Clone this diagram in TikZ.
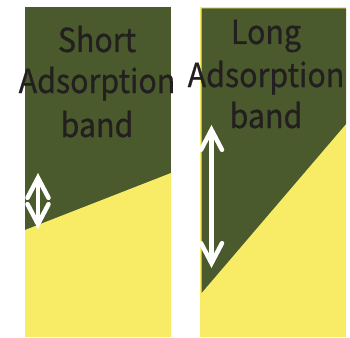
\documentclass[tikz,border=0pt]{standalone}
\usepackage{fontspec}
\newfontfamily\jfont[FakeBold=0.8]{Noto Sans CJK JP}
\usetikzlibrary{arrows.meta}
\definecolor{darkg}{HTML}{4A5A2C}
\definecolor{yel}{HTML}{F8EC66}
\definecolor{txt}{HTML}{231F20}
\newcommand{\nrw}[1]{\scalebox{0.92}[1]{#1}}
\begin{document}
\begin{tikzpicture}[x=1pt,y=-1pt,
  lbl/.style={anchor=base,inner sep=0pt,text=txt,font=\jfont\fontsize{33}{40}\selectfont},
  dbl/.style={draw=white,line width=4.5pt,
    {Straight Barb[length=20pt,width=21pt,line cap=round,line join=miter]}-{Straight Barb[length=20pt,width=21pt,line cap=round,line join=miter]}}]
\useasboundingbox[fill=white] (0,0) rectangle (350,337);
% left panel
\fill[darkg] (25,7) rectangle (171,337);
\fill[yel] (25,230) -- (171,173) -- (171,337) -- (25,337) -- cycle;
% right panel
\fill[yel] (200,7) rectangle (346,337);
\fill[darkg] (201.5,8.5) -- (346,8.5) -- (346,124) -- (201.5,293) -- cycle;
% texts
\node[lbl] (s1) at (97,52) {\nrw{Short}};
\node[lbl] (s2) at (97,93) {\nrw{Adsorption}};
\node[lbl] (s3) at (97,137) {\nrw{band}};
\node[lbl] (l1) at (266,44) {\nrw{Long}};
\node[lbl] (l2) at (266,87) {\nrw{Adsorption}};
\node[lbl] (l3) at (266,128) {\nrw{band}};
% arrows
\coordinate (la) at (38,173);
\coordinate (lb) at (38,229);
\coordinate (ra) at (211.5,125);
\coordinate (rb) at (211.5,268);
\draw[dbl] (la) -- (lb);
\draw[dbl] (ra) -- (rb);
\end{tikzpicture}
\end{document}
